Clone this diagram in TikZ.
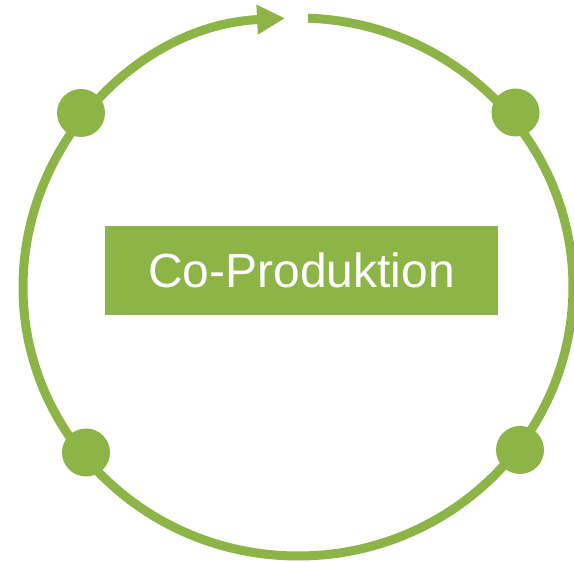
\documentclass[tikz,border=0pt]{standalone}
\usepackage{fontspec}
\setmainfont{Liberation Sans}
\usetikzlibrary{arrows.meta}
\definecolor{leaf}{RGB}{140,180,70}
\tikzset{
  ring/.style={draw=leaf, line width=9pt},
  dot/.style={circle, fill=leaf, draw=none, minimum size=48pt, inner sep=0pt},
  titlebox/.style={fill=leaf, draw=none, minimum width=393pt, minimum height=89pt,
    inner sep=0pt, text=white, font=\fontsize{48}{56}\selectfont}
}
\begin{document}
\begin{tikzpicture}[x=1pt,y=1pt]
\useasboundingbox (0,0) rectangle (574,562);
\coordinate (c) at (298,275);
\draw[ring, -{Triangle[length=28pt,width=28pt]}]
  ([shift={(c)}] 87.9:275 and 269) arc[start angle=87.9, end angle=-267.3, x radius=275, y radius=269];
\node[dot] (d1) at (81,449) {};
\node[dot] (d2) at (515.5,449.5) {};
\node[dot] (d3) at (86,109.5) {};
\node[dot] (d4) at (520,112) {};
\node[titlebox] (t) at (301.5,291.5) {Co-Produktion};
\end{tikzpicture}
\end{document}
